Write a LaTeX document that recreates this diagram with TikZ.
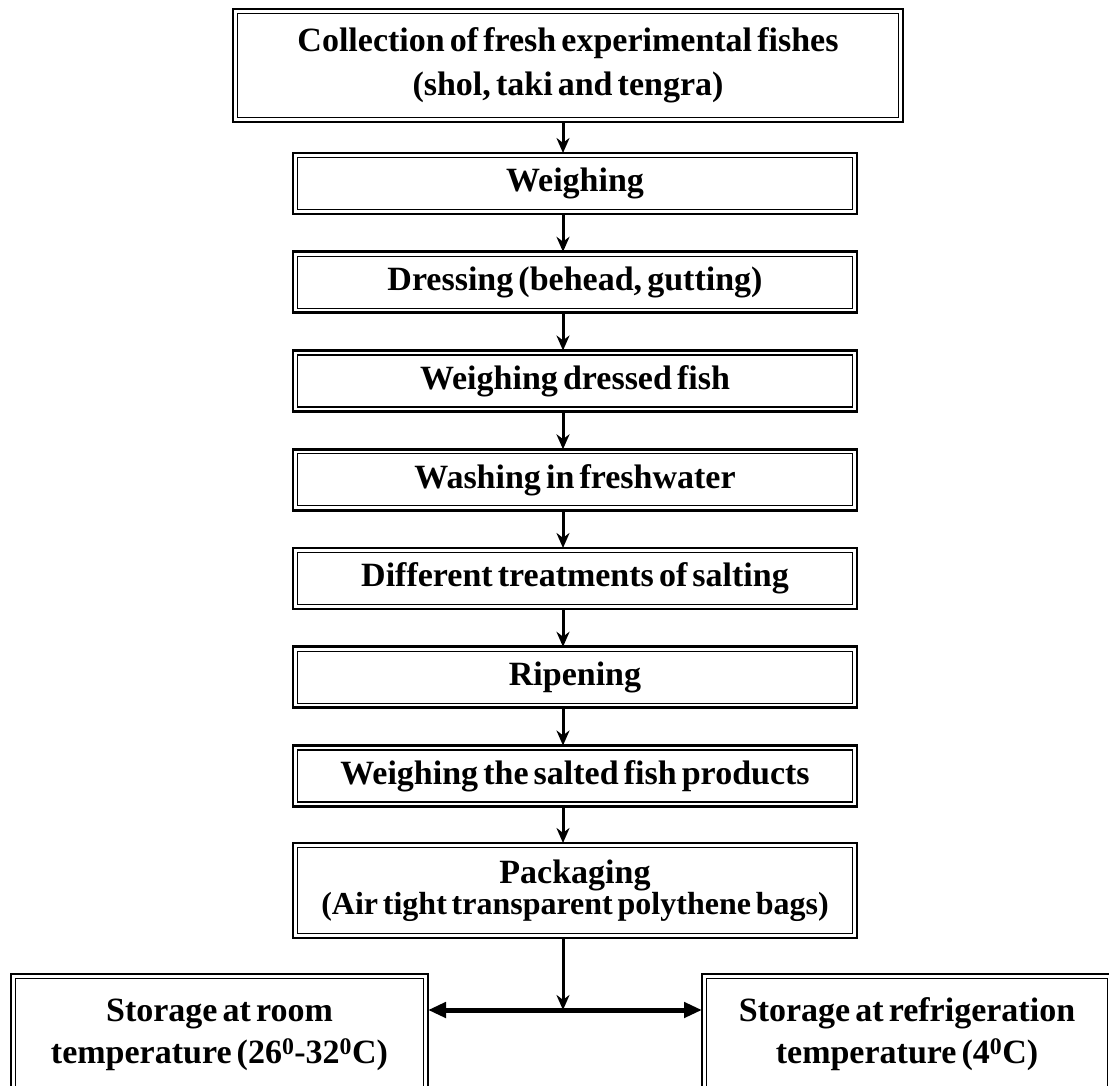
\documentclass[tikz,border=0pt]{standalone}
\usepackage{fontspec}
\setmainfont[WordSpace=0.6]{Liberation Serif}
\usetikzlibrary{arrows.meta,positioning,calc}

\tikzset{
  stepbox/.style={draw, line width=2.8pt, inner sep=0pt, outer sep=0pt, align=center,
    minimum width=564pt, minimum height=61pt, font=\fontsize{34}{44}\selectfont\bfseries},
  flow/.style={line width=3pt, -{Stealth[length=15pt,width=13pt]}},
  biflow/.style={line width=5pt, {Triangle[length=18pt,width=15pt]}-{Triangle[length=18pt,width=15pt]}}
}

\begin{document}
\begin{tikzpicture}[x=1pt,y=-1pt]
    \useasboundingbox (0,0) rectangle (1109,1086);
    \clip (0,0) rectangle (1109,1086);

    % Process steps
    \node[stepbox, minimum width=670pt, minimum height=113pt] (coll) at (568,65.5)
        {Collection of fresh experimental fishes\\(shol, taki and tengra)};
    \node[stepbox] (weigh) at (575,183.5) {Weighing};
    \node[stepbox] (dress) at (575,282.3) {Dressing (behead, gutting)};
    \node[stepbox] (wdress) at (575,381) {Weighing dressed fish};
    \node[stepbox] (wash) at (575,479.8) {Washing in freshwater};
    \node[stepbox] (salt) at (575,578.5) {Different treatments of salting};
    \node[stepbox] (ripe) at (575,677.3) {Ripening};
    \node[stepbox] (wsalt) at (575,776) {Weighing the salted fish products};
    \node[stepbox, minimum height=95pt, font=\bfseries] (pack) at (575,890.5)
        {\fontsize{34}{40}\selectfont Packaging\\\fontsize{32}{40}\selectfont(Air tight transparent polythene bags)};

    % Storage
    \node[stepbox, minimum width=417pt, minimum height=121pt, font=\fontsize{34}{42}\selectfont\bfseries] (roomst) at (219.5,1034.5)
        {Storage at room\\temperature (26\textsuperscript{0}-32\textsuperscript{0}C)};
    \node[stepbox, minimum width=410pt, minimum height=121pt, font=\fontsize{34}{42}\selectfont\bfseries] (fridge) at (907,1034.5)
        {Storage at refrigeration\\temperature (4\textsuperscript{0}C)};

    % Inner lines of the double borders
    \foreach \n in {coll,weigh,dress,wdress,wash,salt,ripe,wsalt,pack,roomst,fridge}
        \draw[line width=1.3pt] ([shift={(4.5,4.5)}]\n.north west) rectangle ([shift={(-4.5,-4.5)}]\n.south east);

    % Arrows
    \coordinate (axis) at (563,0);
    \coordinate (split) at (563,1010);
    \foreach \a/\b in {coll/weigh,weigh/dress,dress/wdress,wdress/wash,wash/salt,salt/ripe,ripe/wsalt,wsalt/pack}
        \draw[flow] (\a.south -| axis) -- (\b.north -| axis);
    \draw[flow] (pack.south -| axis) -- (split);
    \draw[biflow] (roomst.east |- split) -- (fridge.west |- split);
\end{tikzpicture}
\end{document}
